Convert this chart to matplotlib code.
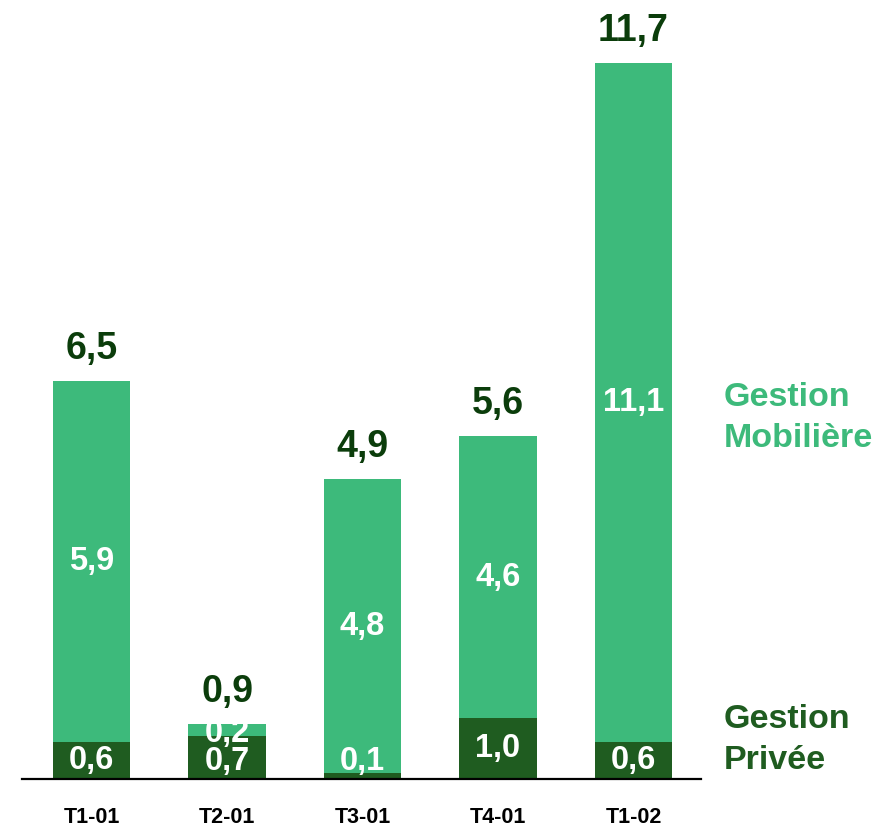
import matplotlib.pyplot as plt
import numpy as np

plt.rcParams['font.family'] = ['Liberation Sans', 'DejaVu Sans']

# donnees
periodes = ['T1-01', 'T2-01', 'T3-01', 'T4-01', 'T1-02']
privee = [0.6, 0.7, 0.1, 1.0, 0.6]
mobiliere = [5.9, 0.2, 4.8, 4.6, 11.1]
totaux = [6.5, 0.9, 4.9, 5.6, 11.7]

vert_clair = '#3dba7b'
vert_fonce = '#1f5c20'
vert_total = '#0b3d0b'

def fr(v):
    return '{:.1f}'.format(v).replace('.', ',')

fig = plt.figure(figsize=(8.93, 8.27), dpi=100)
ax = fig.add_axes([22 / 893, 1 - 779 / 827, 679 / 893, 779 / 827])

x = np.arange(len(periodes))
w = 0.57
ax.bar(x, privee, w, color=vert_fonce)
ax.bar(x, mobiliere, w, bottom=privee, color=vert_clair)

for i in range(len(periodes)):
    yb = max(privee[i] / 2, 0.28)
    if mobiliere[i] < 0.3:
        yb = 0.28
    ax.text(x[i], yb, fr(privee[i]), ha='center', va='center', color='white',
            fontsize=23.5, fontweight='bold')
    yh = privee[i] + mobiliere[i] / 2
    if mobiliere[i] < 0.3:
        yh = privee[i] + 0.05
    ax.text(x[i], yh, fr(mobiliere[i]), ha='center', va='center', color='white',
            fontsize=23.5, fontweight='bold')
    ax.annotate(fr(totaux[i]), (x[i], privee[i] + mobiliere[i]), xytext=(0, 16),
                textcoords='offset points', ha='center', va='baseline',
                color=vert_total, fontsize=27, fontweight='bold')

ax.set_xlim(-0.513, 4.498)
ax.set_ylim(0, 779 / 61.2)
for s in ['top', 'right', 'left']:
    ax.spines[s].set_visible(False)
ax.spines['bottom'].set_linewidth(1.6)
ax.set_yticks([])
ax.set_xticks(x)
ax.set_xticklabels(periodes, fontsize=15.5, fontweight='bold')
ax.tick_params(axis='x', length=0, pad=20)

fig.text(724 / 893, 1 - 418 / 827, 'Gestion\nMobilière', ha='left', va='center',
         color=vert_clair, fontsize=24.5, fontweight='bold', linespacing=1.4)
fig.text(724 / 893, 1 - 740 / 827, 'Gestion\nPrivée', ha='left', va='center',
         color=vert_fonce, fontsize=24.5, fontweight='bold', linespacing=1.4)

fig.savefig('out.png', dpi=100)
